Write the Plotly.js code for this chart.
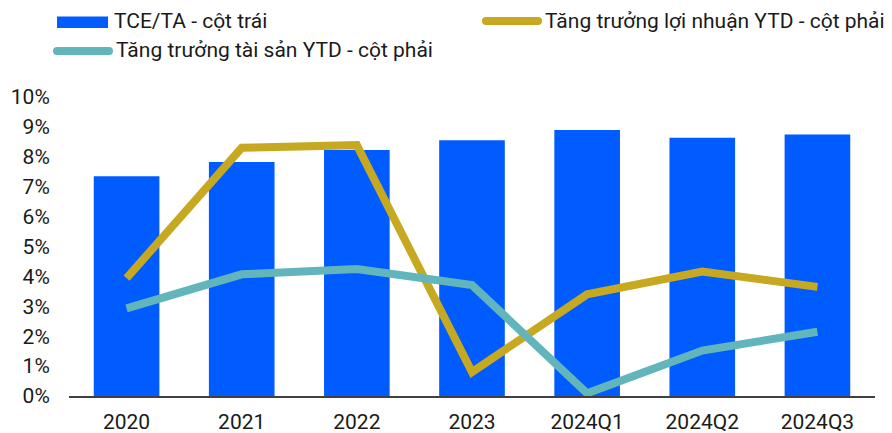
<!DOCTYPE html>
<html>
<head>
<meta charset="utf-8">
<script src="https://cdn.plot.ly/plotly-3.0.1.min.js"></script>
<style>html,body{margin:0;padding:0;background:#fff;}#chart{width:892px;height:433px;}</style>
</head>
<body>
<div id="chart"></div>
<script>
var categories = ["2020", "2021", "2022", "2023", "2024Q1", "2024Q2", "2024Q3"];
var tceTa = [7.35, 7.83, 8.23, 8.55, 8.90, 8.64, 8.75];
var profitGrowth = [3.94, 8.30, 8.39, 0.80, 3.40, 4.16, 3.65];
var assetGrowth = [2.93, 4.07, 4.25, 3.71, 0.09, 1.52, 2.15];
var seriesNames = ["TCE/TA - cột trái", "Tăng trưởng lợi nhuận YTD - cột phải", "Tăng trưởng tài sản YTD - cột phải"];
var yTicks = [0,1,2,3,4,5,6,7,8,9,10];

var W = 892, H = 433;
var M = {l: 69, r: 17, t: 97, b: 37};
var PW = W - M.l - M.r, PH = H - M.t - M.b;
function px(x){ return (x - M.l) / PW; }
function py(y){ return (H - M.b - y) / PH; }

var BLUE = "#005CFF", GOLD = "#C6A920", TEAL = "#62B6BB";
var FONT = "Roboto, 'Noto Sans', sans-serif";
var FS = 21;

function pill(x0, x1, yc, h, color){
  var r = h/2;
  var X0 = px(x0), X1 = px(x1), Xr0 = px(x0 + r), Xr1 = px(x1 - r);
  var Yt = py(yc - r), Yb = py(yc + r), Yc = py(yc);
  var p = "M" + Xr0 + "," + Yt + " L" + Xr1 + "," + Yt +
          " Q" + X1 + "," + Yt + " " + X1 + "," + Yc +
          " Q" + X1 + "," + Yb + " " + Xr1 + "," + Yb +
          " L" + Xr0 + "," + Yb +
          " Q" + X0 + "," + Yb + " " + X0 + "," + Yc +
          " Q" + X0 + "," + Yt + " " + Xr0 + "," + Yt + " Z";
  return {type: "path", xref: "paper", yref: "paper", path: p, fillcolor: color, line: {width: 0}};
}

var traces = [
  {type: "bar", x: categories, y: tceTa, name: seriesNames[0], marker: {color: BLUE}, hoverinfo: "skip"},
  {type: "scatter", mode: "lines", x: categories, y: profitGrowth, name: seriesNames[1], yaxis: "y2",
   line: {color: GOLD, width: 8}},
  {type: "scatter", mode: "lines", x: categories, y: assetGrowth, name: seriesNames[2], yaxis: "y2",
   line: {color: TEAL, width: 8}}
];

var shapes = [
  {type: "rect", xref: "paper", yref: "paper", x0: px(57), x1: px(108), y0: py(28), y1: py(16.5), fillcolor: BLUE, line: {width: 0}},
  pill(482, 542, 21, 8, GOLD),
  pill(53, 113, 51, 8, TEAL)
];

function legendText(text, x, y){
  return {text: text, xref: "paper", yref: "paper", x: px(x), y: py(y), xanchor: "left", yanchor: "middle",
          showarrow: false, font: {family: FONT, size: FS, color: "#1a1a1a"}};
}

var layout = {
  width: W, height: H,
  margin: M,
  paper_bgcolor: "#fff", plot_bgcolor: "#fff",
  showlegend: false,
  bargap: 0.43,
  font: {family: FONT, size: FS, color: "#1a1a1a"},
  xaxis: {
    type: "category",
    showgrid: false, zeroline: false,
    showline: true, linecolor: "#404040", linewidth: 1.5,
    ticks: "outside", ticklen: 6, tickcolor: "rgba(0,0,0,0)",
    tickfont: {family: FONT, size: FS, color: "#1a1a1a"}
  },
  yaxis: {
    range: [0, 10], tickvals: yTicks, ticktext: yTicks.map(function(v){return v + "%";}),
    showgrid: false, zeroline: false, showline: false,
    ticks: "outside", ticklen: 14, tickcolor: "rgba(0,0,0,0)",
    tickfont: {family: FONT, size: FS, color: "#1a1a1a"}
  },
  yaxis2: {range: [0, 10], overlaying: "y", side: "right", visible: false},
  shapes: shapes,
  annotations: [
    legendText(seriesNames[0], 112, 21),
    legendText(seriesNames[1], 543, 21),
    legendText(seriesNames[2], 114, 50)
  ]
};

Plotly.newPlot("chart", traces, layout, {displayModeBar: false, staticPlot: true});
</script>
</body>
</html>
